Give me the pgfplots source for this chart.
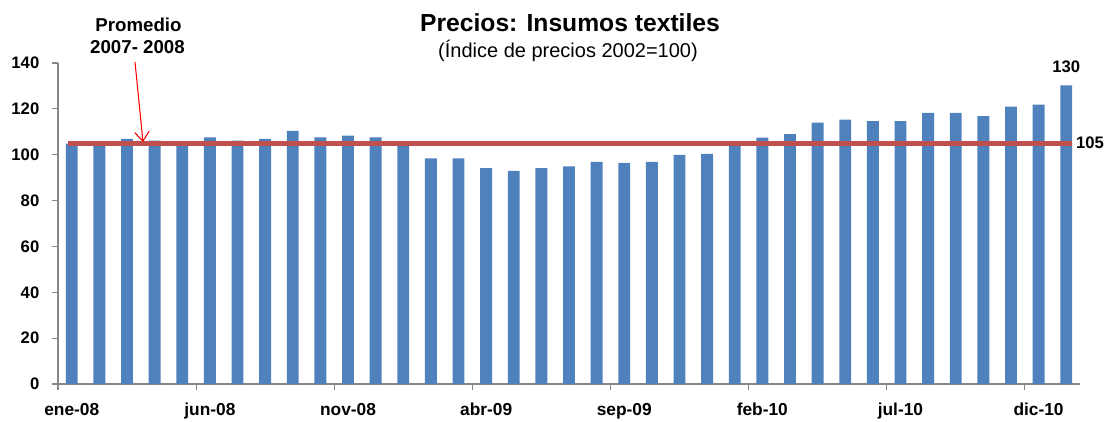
\documentclass[border=0pt]{standalone}
\usepackage{pgfplots}
\pgfplotsset{compat=1.18}
\usepackage{fontspec}
\setmainfont{Liberation Sans}
\usetikzlibrary{arrows.meta}
\definecolor{barblue}{HTML}{4F81BD}
\definecolor{linered}{HTML}{C0504D}
\definecolor{axgray}{RGB}{134,134,134}
\pgfplotstableread{
x y
0 104.8
1 105.2
2 106.9
3 106.1
4 105.7
5 107.6
6 106.1
7 106.9
8 110.4
9 107.6
10 108.3
11 107.6
12 105.7
13 98.4
14 98.4
15 94.2
16 92.9
17 94.2
18 94.9
19 96.9
20 96.4
21 96.9
22 99.9
23 100.4
24 104.5
25 107.4
26 109.0
27 114.0
28 115.3
29 114.7
30 114.7
31 118.2
32 118.2
33 116.8
34 121.0
35 121.9
36 130.2
}\datatable
\begin{document}
\begin{tikzpicture}
\begin{axis}[
  at={(0,0)}, anchor=south west,
  scale only axis,
  width=766.5pt, height=240.75pt,
  xmin=-0.5, xmax=36.5,
  ymin=0, ymax=140,
  ytick={0,20,...,140},
  xtick={0,5,...,35},
  xticklabels={ene-08,jun-08,nov-08,abr-09,sep-09,feb-10,jul-10,dic-10},
  extra x ticks={-0.5,4.5,...,34.5},
  extra x tick labels={},
  extra x tick style={xtick style={draw=axgray, line width=0.8pt}},
  axis lines*=left,
  axis line style={axgray, line width=0.8pt},
  x axis line style={-}, y axis line style={-},
  ytick style={draw=axgray, line width=0.8pt},
  xtick style={draw=none},
  major tick length=4.5pt,
  ytick align=outside, xtick align=outside,
  yticklabel style={font=\bfseries\fontsize{12.5}{14}\selectfont, xshift=-6pt},
  xticklabel style={font=\bfseries\fontsize{13}{15}\selectfont, yshift=-6.5pt},
  /pgf/number format/assume math mode=true,
  clip=false,
]
\addplot[ybar, bar width=0.43, fill=barblue, draw=none] table[x=x,y=y] {\datatable};
\addplot[linered, line width=3.75pt] coordinates {(-0.15,105) (36.2,105)};
\node[font=\bfseries\fontsize{12.5}{14}\selectfont, anchor=south, inner sep=0pt] at (axis cs:36,135.5) {130};
\node[font=\bfseries\fontsize{12.5}{14}\selectfont, anchor=west, inner sep=0pt] at (axis cs:36.35,105) {105};
\end{axis}
\node[font=\bfseries\fontsize{18.5}{20}\selectfont] at (384pt,271pt) {Precios: Insumos textiles};
\node[font=\fontsize{15}{17}\selectfont] at (382.5pt,249.5pt) {(Índice de precios 2002=100)};
\node[font=\bfseries\fontsize{14}{16}\selectfont] at (60.4pt,269.25pt) {Promedio};
\node[font=\bfseries\fontsize{14}{16}\selectfont] at (59.6pt,252.5pt) {2007- 2008};
\draw[red, line width=0.8pt, -{Straight Barb[length=7pt,width=11pt]}] (57.75pt,241.5pt) -- (63.75pt,181.5pt);
\pgfresetboundingbox
\path (-43.5pt,-27.75pt) rectangle (785.25pt,288pt);
\end{tikzpicture}
\end{document}
